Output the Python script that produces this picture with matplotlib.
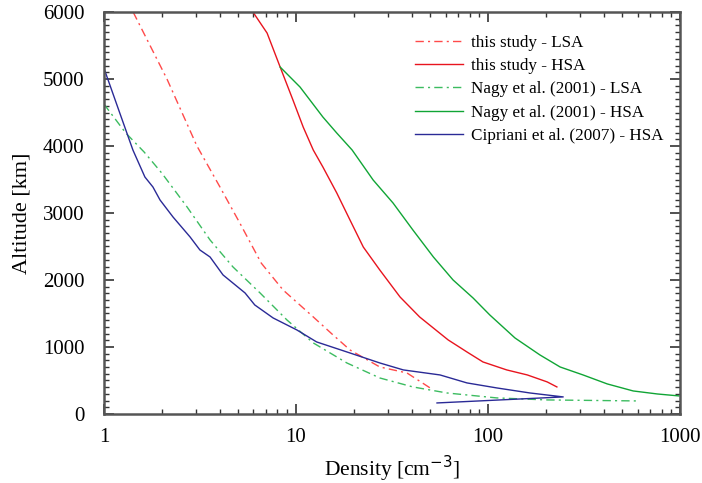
import matplotlib
matplotlib.use("Agg")
import matplotlib.pyplot as plt
from matplotlib.ticker import MultipleLocator, LogLocator, NullFormatter, FixedFormatter, FixedLocator

plt.rcParams['font.family'] = ['Liberation Serif', 'DejaVu Serif']

# this study - LSA (density, altitude)
lsa_dens = [1.42, 2.13, 3.05, 4.02, 5.1, 6.6, 8.56, 12.3, 15.3, 19.1, 27.3, 37.8, 49.9]
lsa_alt = [6000, 5000, 4000, 3388, 2850, 2250, 1851, 1448, 1200, 955, 701, 612, 388]

# this study - HSA
hsa_dens = [5.97, 7.07, 8.27, 9.64, 10.9, 12.3, 13.8, 16.3, 19.1, 22.4, 27.3, 34.8, 44, 55,
            62, 72, 77.6, 94, 125, 160, 203, 228]
hsa_alt = [6000, 5687, 5179, 4687, 4283, 3940, 3687, 3299, 2895, 2492, 2149, 1746, 1448, 1224,
           1104, 985, 925, 776, 657, 582, 478, 403]

# Nagy et al. (2001) - LSA
nagy_lsa_dens = [1.0, 1.3, 1.62, 2.0, 2.71, 3.57, 4.7, 6.5, 8.97, 12.3, 18.4, 27.3,
                 40.6, 61, 111, 203, 597]
nagy_lsa_alt = [4627, 4194, 3910, 3597, 3090, 2597, 2194, 1806, 1403, 1060, 761, 537,
                403, 313, 239, 209, 194]

# Nagy et al. (2001) - HSA
nagy_hsa_dens = [8.27, 10.5, 13.8, 16.3, 19.6, 25.2, 32, 40.6, 51.9, 65.7, 83.5, 102, 138,
                 186, 237, 312, 417, 569, 760, 983]
nagy_hsa_alt = [5179, 4880, 4433, 4194, 3940, 3493, 3149, 2746, 2343, 2000, 1731, 1478, 1134,
                881, 701, 582, 448, 343, 298, 269]

# Cipriani et al. (2007) - HSA
cip_dens = [1.0, 1.21, 1.416, 1.635, 1.8, 1.96, 2.29, 2.81, 3.16, 3.57, 4.17, 5.43, 6.1, 7.6,
            10.1, 12.8, 19.1, 27.3, 36.2, 56.2, 77.6, 111, 165, 246, 54.2]
cip_alt = [5164, 4492, 3940, 3537, 3388, 3194, 2940, 2642, 2448, 2343, 2075, 1806, 1627, 1433,
           1254, 1075, 910, 761, 657, 582, 463, 388, 313, 254, 164]

fig = plt.figure(figsize=(7.02, 4.83), dpi=100)
ax = fig.add_axes([0.148, 0.143, 0.821, 0.832])

dashdot = (0, (6, 3, 1.5, 3))
ax.plot(lsa_dens, lsa_alt, color='#ff4a4a', lw=1.0, ls=dashdot, label='this study - LSA')
ax.plot(hsa_dens, hsa_alt, color='#e8141e', lw=1.0, label='this study - HSA')
ax.plot(nagy_lsa_dens, nagy_lsa_alt, color='#3cbc60', lw=1.0, ls=dashdot, label='Nagy et al. (2001) - LSA')
ax.plot(nagy_hsa_dens, nagy_hsa_alt, color='#10a535', lw=1.0, label='Nagy et al. (2001) - HSA')
ax.plot(cip_dens, cip_alt, color='#2a2a96', lw=1.0, label='Cipriani et al. (2007) - HSA')

ax.set_xscale('log')
ax.set_xlim(1, 1000)
ax.set_ylim(0, 6000)
ax.xaxis.set_major_locator(FixedLocator([1, 10, 100, 1000]))
ax.xaxis.set_major_formatter(FixedFormatter(['1', '10', '100', '1000']))
ax.xaxis.set_minor_locator(LogLocator(base=10, subs=range(2, 10)))
ax.xaxis.set_minor_formatter(NullFormatter())
ax.yaxis.set_major_locator(MultipleLocator(1000))
ax.yaxis.set_minor_locator(MultipleLocator(100))

ax.tick_params(which='both', direction='in', top=True, right=True, color='#333333', labelsize=15)
ax.tick_params(which='major', length=7, width=1.2)
ax.tick_params(which='minor', length=3.5, width=1.0)
ax.tick_params(axis='x', pad=10)
ax.tick_params(axis='y', pad=14)
for s in ax.spines.values():
    s.set_color('#555555')
    s.set_linewidth(1.8)

ax.set_xlabel('Density [cm$^{-3}$]', fontsize=15.5, labelpad=5)
ax.set_ylabel('Altitude [km]', fontsize=16, labelpad=8)

ax.legend(loc='upper left', bbox_to_anchor=(0.54, 0.943), frameon=False, fontsize=12.3,
          handlelength=2.8, handletextpad=0.5, labelspacing=0.42, borderpad=0, borderaxespad=0)

fig.savefig('out.png', dpi=100)
